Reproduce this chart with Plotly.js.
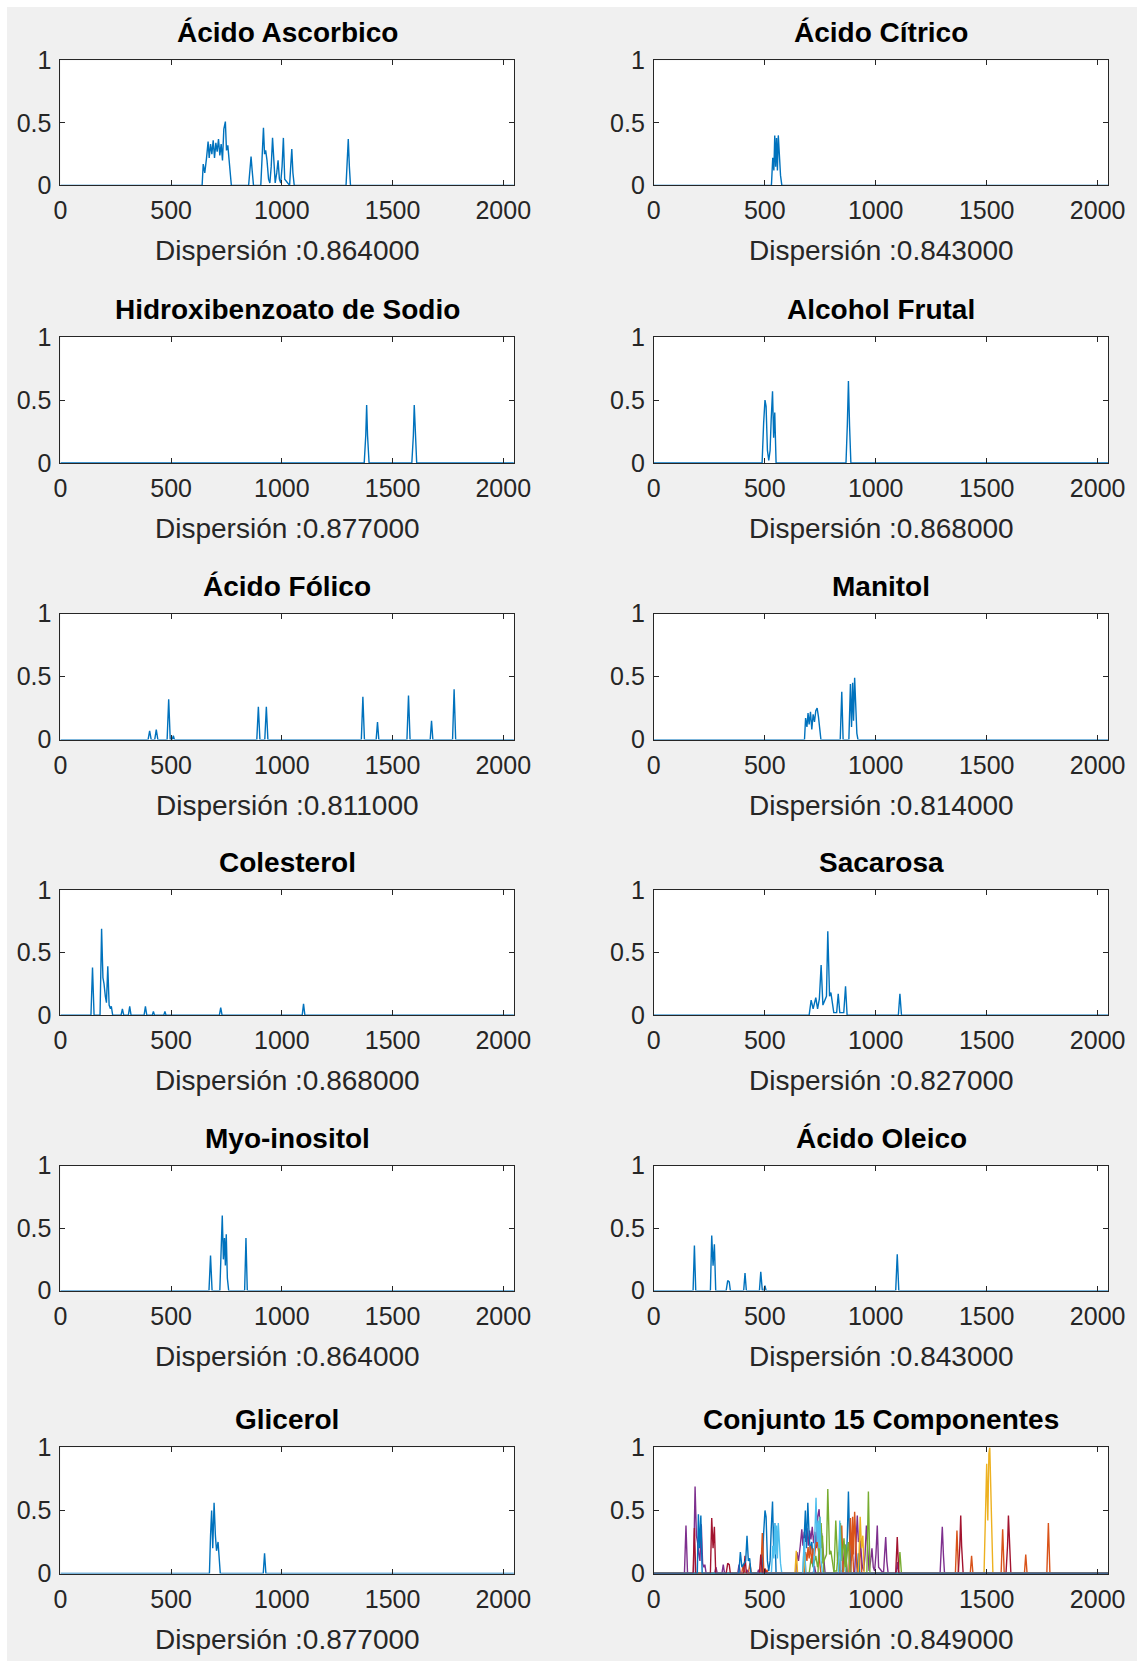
<!DOCTYPE html>
<html>
<head>
<meta charset="utf-8">
<script src="https://cdn.plot.ly/plotly-3.0.1.min.js"></script>
<style>
  html, body { margin: 0; padding: 0; background: #ffffff; }
  #fig { position: absolute; left: 7px; top: 7px; width: 1130px; height: 1654px; }
</style>
</head>
<body>
<div id="fig"></div>
<script>
// Spectra of each component: [position, normalised intensity] breakpoints
const acidoAscorbico = [[0,0],[640,0],[645,0.17],[652,0.10],[660,0.22],[667,0.35],[672,0.22],[678,0.33],[684,0.25],[690,0.36],[696,0.22],[702,0.34],[708,0.27],[714,0.37],[720,0.24],[726,0.33],[732,0.20],[738,0.45],[745,0.51],[750,0.28],[756,0.32],[762,0.20],[766,0.17],[772,0],[850,0],[856,0.12],[861,0.23],[866,0.12],[872,0],[905,0],[911,0.2],[917,0.46],[922,0.25],[927,0.28],[933,0.20],[940,0.05],[946,0.02],[952,0.15],[958,0.38],[964,0.15],[970,0.02],[977,0.1],[983,0.20],[989,0.05],[995,0.02],[1001,0.15],[1007,0.38],[1013,0.05],[1035,0],[1040,0.15],[1045,0.29],[1050,0.1],[1056,0],[1290,0],[1295,0.15],[1300,0.37],[1305,0.15],[1310,0],[2048,0]];
const acidoCitrico = [[0,0],[530,0],[536,0.22],[541,0.12],[545,0.40],[549,0.15],[553,0.38],[557,0.12],[561,0.40],[566,0.2],[571,0.08],[577,0],[2048,0]];
const hidroxibenzoato = [[0,0],[1372,0],[1379,0.22],[1383,0.46],[1387,0.22],[1394,0],[1587,0],[1594,0.22],[1598,0.46],[1602,0.22],[1609,0],[2048,0]];
const alcoholFrutal = [[0,0],[488,0],[495,0.32],[501,0.50],[506,0.45],[512,0.1],[518,0.02],[524,0.1],[529,0.35],[535,0.57],[540,0.2],[545,0.40],[551,0],[866,0],[872,0.3],[877,0.65],[882,0.3],[888,0],[2048,0]];
const acidoFolico = [[0,0],[396,0],[403,0.07],[410,0],[426,0],[433,0.08],[440,0],[482,0],[489,0.32],[496,0],[505,0],[510,0.03],[515,0],[887,0],[894,0.26],[901,0],[923,0],[930,0.26],[937,0],[1359,0],[1366,0.34],[1373,0],[1426,0],[1432,0.14],[1438,0],[1565,0],[1572,0.35],[1579,0],[1670,0],[1676,0.15],[1682,0],[1771,0],[1778,0.40],[1785,0],[2048,0]];
const manitol = [[0,0],[679,0],[684,0.17],[690,0.10],[695,0.21],[700,0.12],[706,0.22],[712,0.08],[718,0.20],[724,0.14],[730,0.23],[736,0.25],[742,0.18],[748,0.05],[753,0],[840,0],[847,0.38],[853,0],[879,0],[886,0.44],[891,0.1],[896,0.45],[900,0.15],[905,0.49],[910,0.3],[915,0.05],[920,0],[2048,0]];
const colesterol = [[0,0],[138,0],[145,0.38],[152,0],[179,0],[186,0.69],[192,0.3],[197,0.25],[203,0.15],[208,0.1],[214,0.39],[220,0.08],[226,0.05],[230,0.07],[236,0],[274,0],[280,0.05],[286,0],[307,0],[313,0.07],[319,0],[378,0],[384,0.07],[390,0],[415,0],[420,0.03],[425,0],[467,0],[472,0.03],[477,0],[718,0],[724,0.06],[730,0],[1092,0],[1098,0.09],[1104,0],[2048,0]];
const sacarosa = [[0,0],[700,0],[709,0.12],[718,0.05],[730,0.14],[738,0.05],[746,0.13],[754,0.40],[762,0.08],[771,0.12],[778,0.15],[784,0.67],[792,0.15],[798,0.18],[806,0.05],[811,0.02],[824,0.02],[831,0.17],[838,0.02],[856,0.02],[864,0.23],[871,0],[1102,0],[1109,0.17],[1116,0],[2048,0]];
const myoInositol = [[0,0],[671,0],[678,0.28],[685,0],[720,0],[726,0.35],[731,0.60],[736,0.25],[741,0.42],[745,0.2],[749,0.45],[754,0.1],[760,0],[832,0],[838,0.42],[844,0],[2048,0]];
const acidoOleico = [[0,0],[177,0],[183,0.36],[189,0],[255,0],[261,0.44],[267,0.2],[273,0.37],[279,0],[326,0],[333,0.08],[340,0.07],[345,0],[405,0],[411,0.14],[417,0],[476,0],[482,0.15],[489,0],[496,0],[501,0.04],[506,0],[1090,0],[1097,0.29],[1104,0],[2048,0]];
const glicerol = [[0,0],[673,0],[678,0.3],[683,0.50],[688,0.2],[694,0.56],[700,0.3],[705,0.18],[712,0.25],[718,0.1],[722,0],[916,0],[922,0.16],[928,0],[2048,0]];
// remaining components, only present in the combined set
const componente12 = [[0,0],[1488,0],[1495,0.5],[1500,0.87],[1505,0.42],[1510,0.95],[1514,1.0],[1518,0.6],[1522,0.42],[1528,0],[2048,0]];
const componente13 = [[0,0],[636,0],[642,0.18],[648,0],[674,0],[680,0.15],[686,0],[922,0],[930,0.45],[936,0.2],[942,0.3],[948,0],[2048,0]];
const componente14 = [[0,0],[740,0],[748,0.45],[754,0.2],[760,0.3],[766,0],[812,0],[820,0.42],[828,0.1],[834,0.15],[841,0.40],[848,0.1],[857,0.28],[864,0.05],[877,0.25],[884,0],[960,0],[967,0.65],[974,0],[2048,0]];
const componente15 = [[0,0],[196,0],[201,0.47],[206,0.2],[212,0.46],[218,0],[383,0],[390,0.17],[397,0.05],[405,0.08],[414,0.1],[420,0.3],[426,0.1],[432,0.12],[438,0],[2048,0]];

// Panel titles and dispersion scores, in reading order
const panelTitles = ['Ácido Ascorbico','Ácido Cítrico','Hidroxibenzoato de Sodio','Alcohol Frutal','Ácido Fólico','Manitol','Colesterol','Sacarosa','Myo-inositol','Ácido Oleico','Glicerol','Conjunto 15 Componentes'];
const dispersion = [0.864, 0.843, 0.877, 0.868, 0.811, 0.814, 0.868, 0.827, 0.864, 0.843, 0.877, 0.849];
const panelSpectra = [acidoAscorbico, acidoCitrico, hidroxibenzoato, alcoholFrutal, acidoFolico, manitol, colesterol, sacarosa, myoInositol, acidoOleico, glicerol];
// Plot order of the combined panel (line colour follows this order)
const combinedOrder = [alcoholFrutal, acidoFolico, componente12, acidoAscorbico, sacarosa, acidoCitrico, hidroxibenzoato, glicerol, manitol, componente13, colesterol, componente14, myoInositol, acidoOleico, componente15];
const xTicks = [0, 500, 1000, 1500, 2000];
const yTicks = [0, 0.5, 1];

// ---- layout geometry (pixels inside the figure div) ----
const W = 1130, H = 1654, OFF = 7;
const colPx = [[60.4, 513.9], [653.8, 1108.3]];
const rowPx = [[60.4, 185.4], [337.0, 463.0], [613.5, 739.6], [890.1, 1015.1], [1165.6, 1290.6], [1447.4, 1573.5]];
const px2x = p => (p - OFF) / W;
const px2y = p => 1 - (p - OFF) / H;

const lineColors = ['#0072BD', '#D95319', '#EDB120', '#7E2F8E', '#77AC30', '#4DBEEE', '#A2142F'];
const axisColor = '#262626';
const fontFam = 'Liberation Sans, Arial, Helvetica, sans-serif';

const traces = [];
const layout = {
  width: W, height: H,
  margin: {l: 0, r: 0, t: 0, b: 0},
  paper_bgcolor: '#f0f0f0',
  plot_bgcolor: '#ffffff',
  showlegend: false,
  font: {family: fontFam, color: axisColor},
  annotations: []
};

function addLine(spec, idx, color) {
  traces.push({
    type: 'scatter', mode: 'lines',
    x: spec.map(p => p[0]), y: spec.map(p => p[1]),
    xaxis: 'x' + (idx === 1 ? '' : idx), yaxis: 'y' + (idx === 1 ? '' : idx),
    line: {color: color, width: 1.4},
    hoverinfo: 'skip'
  });
}

for (let i = 0; i < 12; i++) {
  const idx = i + 1;
  const col = i % 2, row = Math.floor(i / 2);
  const [xl, xr] = colPx[col];
  const [yt, yb] = rowPx[row];
  const axCommon = {
    showgrid: false, zeroline: false,
    showline: true, linecolor: axisColor, linewidth: 1, mirror: 'allticks',
    ticks: 'inside', ticklen: 5, tickwidth: 1, tickcolor: axisColor,
    tickfont: {family: fontFam, size: 25, color: axisColor},
    fixedrange: true
  };
  layout['xaxis' + (idx === 1 ? '' : idx)] = Object.assign({}, axCommon, {
    domain: [px2x(xl), px2x(xr)],
    anchor: 'y' + (idx === 1 ? '' : idx),
    range: [0, 2048], tickvals: xTicks, ticktext: xTicks.map(String),
    ticklabelstandoff: 3
  });
  layout['yaxis' + (idx === 1 ? '' : idx)] = Object.assign({}, axCommon, {
    domain: [px2y(yb), px2y(yt)],
    anchor: 'x' + (idx === 1 ? '' : idx),
    range: [0, 1], tickvals: yTicks, ticktext: yTicks.map(String),
    ticklabelstandoff: 3
  });

  if (i < 11) {
    addLine(panelSpectra[i], idx, lineColors[0]);
  } else {
    combinedOrder.forEach((spec, k) => addLine(spec, idx, lineColors[k % lineColors.length]));
  }

  const cx = px2x((xl + xr) / 2);
  layout.annotations.push({
    xref: 'paper', yref: 'paper', x: cx, y: px2y(yt - 27.5),
    xanchor: 'center', yanchor: 'middle', showarrow: false,
    text: '<b>' + panelTitles[i] + '</b>',
    font: {family: fontFam, size: 28, color: '#000000'}
  });
  layout.annotations.push({
    xref: 'paper', yref: 'paper', x: cx, y: px2y(yb + 65.5),
    xanchor: 'center', yanchor: 'middle', showarrow: false,
    text: 'Dispersión :' + dispersion[i].toFixed(6),
    font: {family: fontFam, size: 28, color: axisColor}
  });
}

Plotly.newPlot('fig', traces, layout, {staticPlot: true, displayModeBar: false});
</script>
</body>
</html>
